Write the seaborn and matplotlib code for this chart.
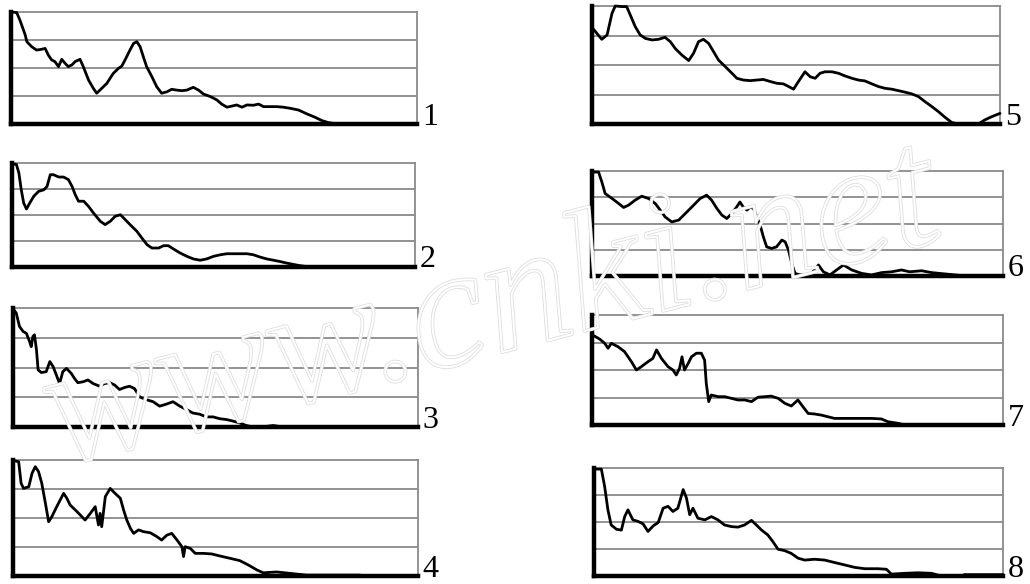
import numpy as np
import pandas as pd
import matplotlib
matplotlib.use("Agg")
import matplotlib.pyplot as plt
import matplotlib.patheffects as pe
import seaborn as sns

# ---------------- data (x: 0-100 % of record, y: 0-4 grid units) ----------------
x1 = [0, 1.4, 2.2, 3.5, 3.9, 5.1, 6.3, 7.6, 8.4, 9.2, 10.0, 10.8, 11.7, 12.5, 13.3, 14.1, 15.0, 15.8, 17.0, 17.8,
      19.1, 20.3, 21.1, 21.9, 23.6, 25.2, 26.5, 27.3, 28.1, 29.3, 30.2, 31.0, 31.8, 32.6, 33.4, 34.7, 35.9, 37.1,
      38.4, 39.6, 40.8, 42.1, 43.3, 44.9, 46.2, 47.4, 49.1, 50.7, 51.9, 53.2, 54.4, 55.6, 56.9, 58.1, 59.7, 61.0,
      62.2, 63.8, 65.5, 67.1, 68.8, 70.8, 72.9, 74.9, 76.6, 78.2, 80.3, 100]
y1 = [4.0, 3.98, 3.71, 3.18, 2.94, 2.76, 2.64, 2.67, 2.70, 2.46, 2.29, 2.23, 2.05, 2.31, 2.17, 2.05, 2.11, 2.23, 2.31,
      2.05, 1.57, 1.27, 1.10, 1.21, 1.45, 1.81, 1.99, 2.07, 2.29, 2.64, 2.88, 2.94, 2.76, 2.40, 2.05, 1.69, 1.33,
      1.10, 1.15, 1.24, 1.21, 1.19, 1.21, 1.31, 1.21, 1.07, 0.98, 0.86, 0.71, 0.60, 0.64, 0.68, 0.60, 0.68, 0.67,
      0.71, 0.62, 0.62, 0.62, 0.60, 0.56, 0.50, 0.36, 0.24, 0.12, 0.05, 0.0, 0.0]

x2 = [0.2, 1.1, 1.7, 2.3, 2.9, 3.6, 4.4, 5.4, 6.6, 7.9, 8.7, 9.5, 10.3, 11.6, 12.8, 14.0, 14.9, 15.7, 16.5, 17.8,
      19.0, 20.2, 21.9, 23.1, 24.4, 25.6, 26.9, 28.1, 29.3, 31.0, 32.2, 33.5, 34.7, 36.4, 37.6, 38.8, 40.1, 41.7,
      43.4, 45.0, 46.7, 48.3, 50.0, 51.7, 53.3, 55.0, 56.6, 58.3, 59.9, 61.6, 63.2, 64.9, 66.5, 68.2, 69.8, 71.5,
      74.0, 100]
y2 = [3.97, 3.94, 3.62, 2.97, 2.46, 2.23, 2.46, 2.72, 2.91, 2.97, 3.10, 3.55, 3.55, 3.46, 3.46, 3.36, 3.10, 2.78,
      2.53, 2.53, 2.33, 2.08, 1.76, 1.63, 1.76, 1.95, 2.01, 1.82, 1.63, 1.37, 1.12, 0.86, 0.73, 0.73, 0.82, 0.82,
      0.69, 0.54, 0.41, 0.31, 0.26, 0.31, 0.41, 0.47, 0.51, 0.51, 0.51, 0.51, 0.47, 0.38, 0.31, 0.26, 0.21, 0.15,
      0.10, 0.05, 0.0, 0.0]

x3 = [0.2, 0.8, 1.6, 2.5, 3.3, 4.1, 4.5, 4.9, 5.3, 5.8, 6.2, 7.0, 8.2, 9.1, 9.9, 10.7, 11.5, 12.3, 13.2, 14.4,
      15.2, 16.0, 17.3, 18.5, 19.8, 21.4, 22.6, 23.9, 25.1, 26.3, 27.6, 28.8, 30.0, 31.3, 32.9, 34.6, 36.2, 37.9,
      39.5, 41.2, 42.8, 44.4, 46.1, 47.7, 49.4, 51.0, 52.7, 54.3, 55.9, 57.6, 59.3, 62.6, 64.2, 66.7, 100]
y3 = [3.94, 3.83, 3.38, 3.21, 3.15, 2.87, 2.70, 3.04, 3.10, 2.59, 1.92, 1.83, 1.86, 2.20, 2.03, 1.75, 1.46, 1.86,
      1.97, 1.80, 1.63, 1.49, 1.52, 1.58, 1.46, 1.37, 1.46, 1.49, 1.41, 1.26, 1.33, 1.37, 1.29, 1.01, 0.92, 0.85,
      0.70, 0.77, 0.85, 0.70, 0.59, 0.47, 0.43, 0.34, 0.34, 0.28, 0.25, 0.20, 0.14, 0.05, 0.0, 0.02, 0.05, 0.0, 0.0]

x4 = [0.2, 1.4, 2.0, 2.6, 3.9, 4.7, 5.5, 6.3, 7.1, 8.0, 8.8, 9.6, 10.8, 12.5, 13.3, 14.1, 15.8, 17.8, 19.1, 20.3,
      21.1, 21.5, 21.9, 22.8, 24.0, 25.2, 26.5, 27.3, 28.1, 29.0, 29.8, 31.0, 32.2, 33.9, 35.5, 36.7, 38.0, 39.2,
      40.5, 41.7, 42.1, 42.5, 43.8, 45.0, 47.0, 49.1, 51.1, 53.6, 56.0, 58.1, 60.2, 61.8, 65.1, 68.4, 72.5, 85.6,
      87.3, 100]
y4 = [3.98, 3.94, 3.20, 3.02, 3.08, 3.54, 3.77, 3.60, 3.20, 2.51, 1.87, 2.05, 2.39, 2.85, 2.68, 2.45, 2.22, 1.93,
      2.16, 2.39, 1.76, 2.16, 1.70, 2.74, 3.02, 2.85, 2.68, 2.28, 1.93, 1.64, 1.47, 1.59, 1.53, 1.49, 1.36, 1.24,
      1.41, 1.47, 1.24, 1.01, 0.67, 1.01, 0.95, 0.78, 0.78, 0.76, 0.69, 0.61, 0.53, 0.38, 0.21, 0.11, 0.14, 0.09,
      0.03, 0.03, 0.0, 0.0]

x5 = [0.2, 1.2, 2.4, 3.7, 4.9, 5.7, 7.3, 8.5, 9.4, 10.6, 11.8, 13.1, 14.7, 16.3, 17.9, 19.2, 20.4, 22.0, 23.7,
      24.9, 26.1, 27.3, 28.6, 29.8, 31.0, 32.7, 34.3, 35.5, 37.1, 38.8, 40.4, 42.0, 43.7, 45.3, 46.9, 48.2, 49.4,
      50.6, 52.2, 53.5, 54.7, 55.9, 57.1, 58.8, 60.4, 62.0, 63.7, 65.3, 66.9, 68.6, 70.2, 71.8, 73.5, 75.1, 76.7,
      78.4, 80.0, 81.6, 83.3, 84.9, 86.5, 88.2, 89.8, 94.7, 96.3, 98.0, 100]
y5 = [3.24, 3.07, 2.87, 3.02, 3.75, 4.0, 3.98, 3.98, 3.69, 3.30, 3.02, 2.90, 2.85, 2.87, 2.94, 2.79, 2.56, 2.34,
      2.15, 2.40, 2.79, 2.87, 2.73, 2.45, 2.17, 1.94, 1.72, 1.55, 1.49, 1.47, 1.49, 1.51, 1.44, 1.38, 1.36, 1.27,
      1.18, 1.44, 1.77, 1.60, 1.55, 1.72, 1.77, 1.77, 1.72, 1.63, 1.55, 1.49, 1.46, 1.36, 1.27, 1.21, 1.18, 1.13,
      1.08, 1.02, 0.93, 0.76, 0.59, 0.42, 0.23, 0.05, 0.0, 0.0, 0.14, 0.25, 0.36]

x6 = [0.4, 1.6, 2.4, 3.2, 4.9, 6.5, 7.7, 8.9, 10.5, 12.1, 13.8, 15.4, 16.6, 17.8, 19.4, 21.1, 22.7, 24.3, 26.3,
      27.9, 29.1, 30.4, 31.6, 32.8, 34.0, 35.2, 36.0, 36.8, 37.7, 38.5, 39.3, 40.1, 40.9, 41.7, 42.5, 43.7, 44.9,
      46.2, 47.0, 47.8, 48.6, 49.4, 50.6, 52.3, 53.4, 55.1, 56.3, 57.9, 59.5, 61.2, 63.2, 65.6, 68.0, 70.5, 72.9,
      75.3, 77.3, 80.2, 82.6, 85.8, 89.1, 92.3, 100]
y6 = [3.96, 3.96, 3.58, 3.14, 2.95, 2.76, 2.61, 2.70, 2.89, 3.04, 2.95, 2.76, 2.51, 2.25, 2.06, 2.13, 2.38, 2.63,
      2.95, 3.08, 2.89, 2.57, 2.32, 2.19, 2.38, 2.63, 2.82, 2.63, 2.51, 2.63, 2.57, 2.25, 1.94, 1.49, 1.11, 1.05,
      1.11, 1.37, 1.30, 0.99, 0.48, 0.10, 0.04, 0.04, 0.10, 0.42, 0.16, 0.04, 0.23, 0.42, 0.23, 0.10, 0.04, 0.13,
      0.16, 0.23, 0.16, 0.20, 0.13, 0.08, 0.03, 0.0, 0.0]

x7 = [0.2, 1.9, 3.1, 3.9, 4.7, 6.3, 7.9, 9.6, 10.8, 12.0, 13.6, 14.8, 15.7, 16.9, 18.5, 19.7, 20.5, 21.3, 21.9,
      22.5, 23.4, 24.2, 25.4, 26.6, 27.4, 27.8, 28.4, 29.0, 30.7, 32.3, 33.9, 35.5, 37.2, 38.8, 40.4, 42.0, 43.6,
      45.3, 46.9, 48.5, 50.1, 51.3, 52.6, 54.2, 55.8, 57.4, 59.0, 61.5, 64.7, 68.0, 70.4, 72.0, 74.5, 76.1, 100]
y7 = [3.27, 3.12, 2.97, 2.79, 2.97, 2.85, 2.67, 2.30, 2.00, 2.12, 2.30, 2.42, 2.73, 2.42, 2.12, 2.00, 1.82, 2.06,
      2.48, 2.00, 2.24, 2.48, 2.61, 2.61, 2.36, 1.52, 0.85, 1.09, 1.03, 1.03, 0.97, 0.91, 0.91, 0.85, 1.01, 1.03,
      1.05, 0.97, 0.79, 0.69, 0.91, 0.67, 0.42, 0.40, 0.36, 0.30, 0.24, 0.24, 0.24, 0.24, 0.22, 0.12, 0.06, 0.0, 0.0]

x8 = [0.3, 1.8, 2.6, 3.4, 4.2, 5.5, 6.7, 7.5, 8.3, 9.5, 10.8, 12.0, 13.2, 14.5, 15.7, 16.9, 18.1, 19.3, 20.5,
      21.8, 22.6, 23.4, 24.2, 25.4, 27.1, 28.7, 30.3, 31.9, 33.6, 35.2, 36.8, 38.5, 39.7, 40.9, 42.5, 43.7, 45.0,
      46.6, 48.2, 49.9, 51.5, 53.9, 56.4, 58.8, 61.3, 63.7, 66.2, 69.4, 71.5, 72.7, 76.0, 79.2, 82.5, 84.9, 89.8,
      90.6, 100]
y8 = [3.96, 3.96, 3.32, 2.45, 1.89, 1.73, 1.70, 2.20, 2.45, 2.08, 2.02, 1.93, 1.65, 1.86, 1.98, 2.51, 2.58, 2.39,
      2.51, 3.20, 2.89, 2.27, 2.51, 2.14, 2.08, 2.20, 2.08, 1.89, 1.83, 1.81, 1.89, 2.06, 1.89, 1.71, 1.52, 1.28,
      0.99, 0.94, 0.84, 0.66, 0.59, 0.62, 0.59, 0.50, 0.41, 0.32, 0.27, 0.27, 0.25, 0.07, 0.10, 0.12, 0.10, 0.0,
      0.0, 0.05, 0.05]

panel_labels = ["1", "2", "3", "4", "5", "6", "7", "8"]
series_x = [x1, x2, x3, x4, x5, x6, x7, x8]
series_y = [y1, y2, y3, y4, y5, y6, y7, y8]
grid_levels = [1, 2, 3]
watermark = "www.cnki.net"

# ---------------- layout ----------------
W, H = 1030, 584
# pixel boxes (left, top, right, bottom) for each panel
boxes = [
    (11, 12, 417, 124),
    (12, 163, 415, 267),
    (13, 308, 418, 427),
    (13, 460, 418, 576),
    (592, 6, 1000, 124),
    (592, 171, 1003, 276),
    (592, 315, 1003, 425),
    (594, 468, 1003, 576),
]

sns.set_theme(style="white")
plt.rcParams['font.family'] = ['DejaVu Sans']

fig = plt.figure(figsize=(W / 100, H / 100), dpi=100)
fig.patch.set_facecolor("white")

for i in range(8):
    l, t, r, b = boxes[i]
    ax = fig.add_axes([l / W, 1 - b / H, (r - l) / W, (b - t) / H])
    ax.set_facecolor("white")
    df = pd.DataFrame({"x": series_x[i], "y": series_y[i]})
    for g in grid_levels:
        ax.axhline(g, color="#8a8a8a", lw=1.3, zorder=1)
    sns.lineplot(data=df, x="x", y="y", ax=ax, color="black", linewidth=2.0,
                 sort=False, estimator=None, zorder=3, clip_on=False)
    ax.set_xlim(0, 100)
    ax.set_ylim(0, 4)
    ax.set_xticks([])
    ax.set_yticks([])
    ax.set_xlabel("")
    ax.set_ylabel("")
    for s in ["top", "right"]:
        ax.spines[s].set_color("#8a8a8a")
        ax.spines[s].set_linewidth(1.3)
        ax.spines[s].set_visible(True)
    ax.spines["left"].set_color("black")
    ax.spines["left"].set_linewidth(3.2)
    ax.spines["bottom"].set_color("black")
    ax.spines["bottom"].set_linewidth(3.2)
    ax.spines["left"].set_zorder(4)
    ax.spines["bottom"].set_zorder(4)
    ax.text(1.012, -0.07, panel_labels[i], transform=ax.transAxes, ha="left", va="bottom",
            fontsize=23, family="Liberation Serif", color="black")

# watermark (faint outline letters only)
wm = fig.text(59 / W, 1 - 466 / H, watermark, fontsize=124, family="Liberation Serif",
              style="italic", rotation=14.4, rotation_mode="anchor", color=(1, 1, 1, 0),
              ha="left", va="baseline", zorder=10)
wm.set_path_effects([pe.Stroke(linewidth=2.6, foreground="#dedede"),
                     pe.Stroke(linewidth=1.4, foreground="white")])

fig.savefig("out.png", dpi=100, facecolor="white")
